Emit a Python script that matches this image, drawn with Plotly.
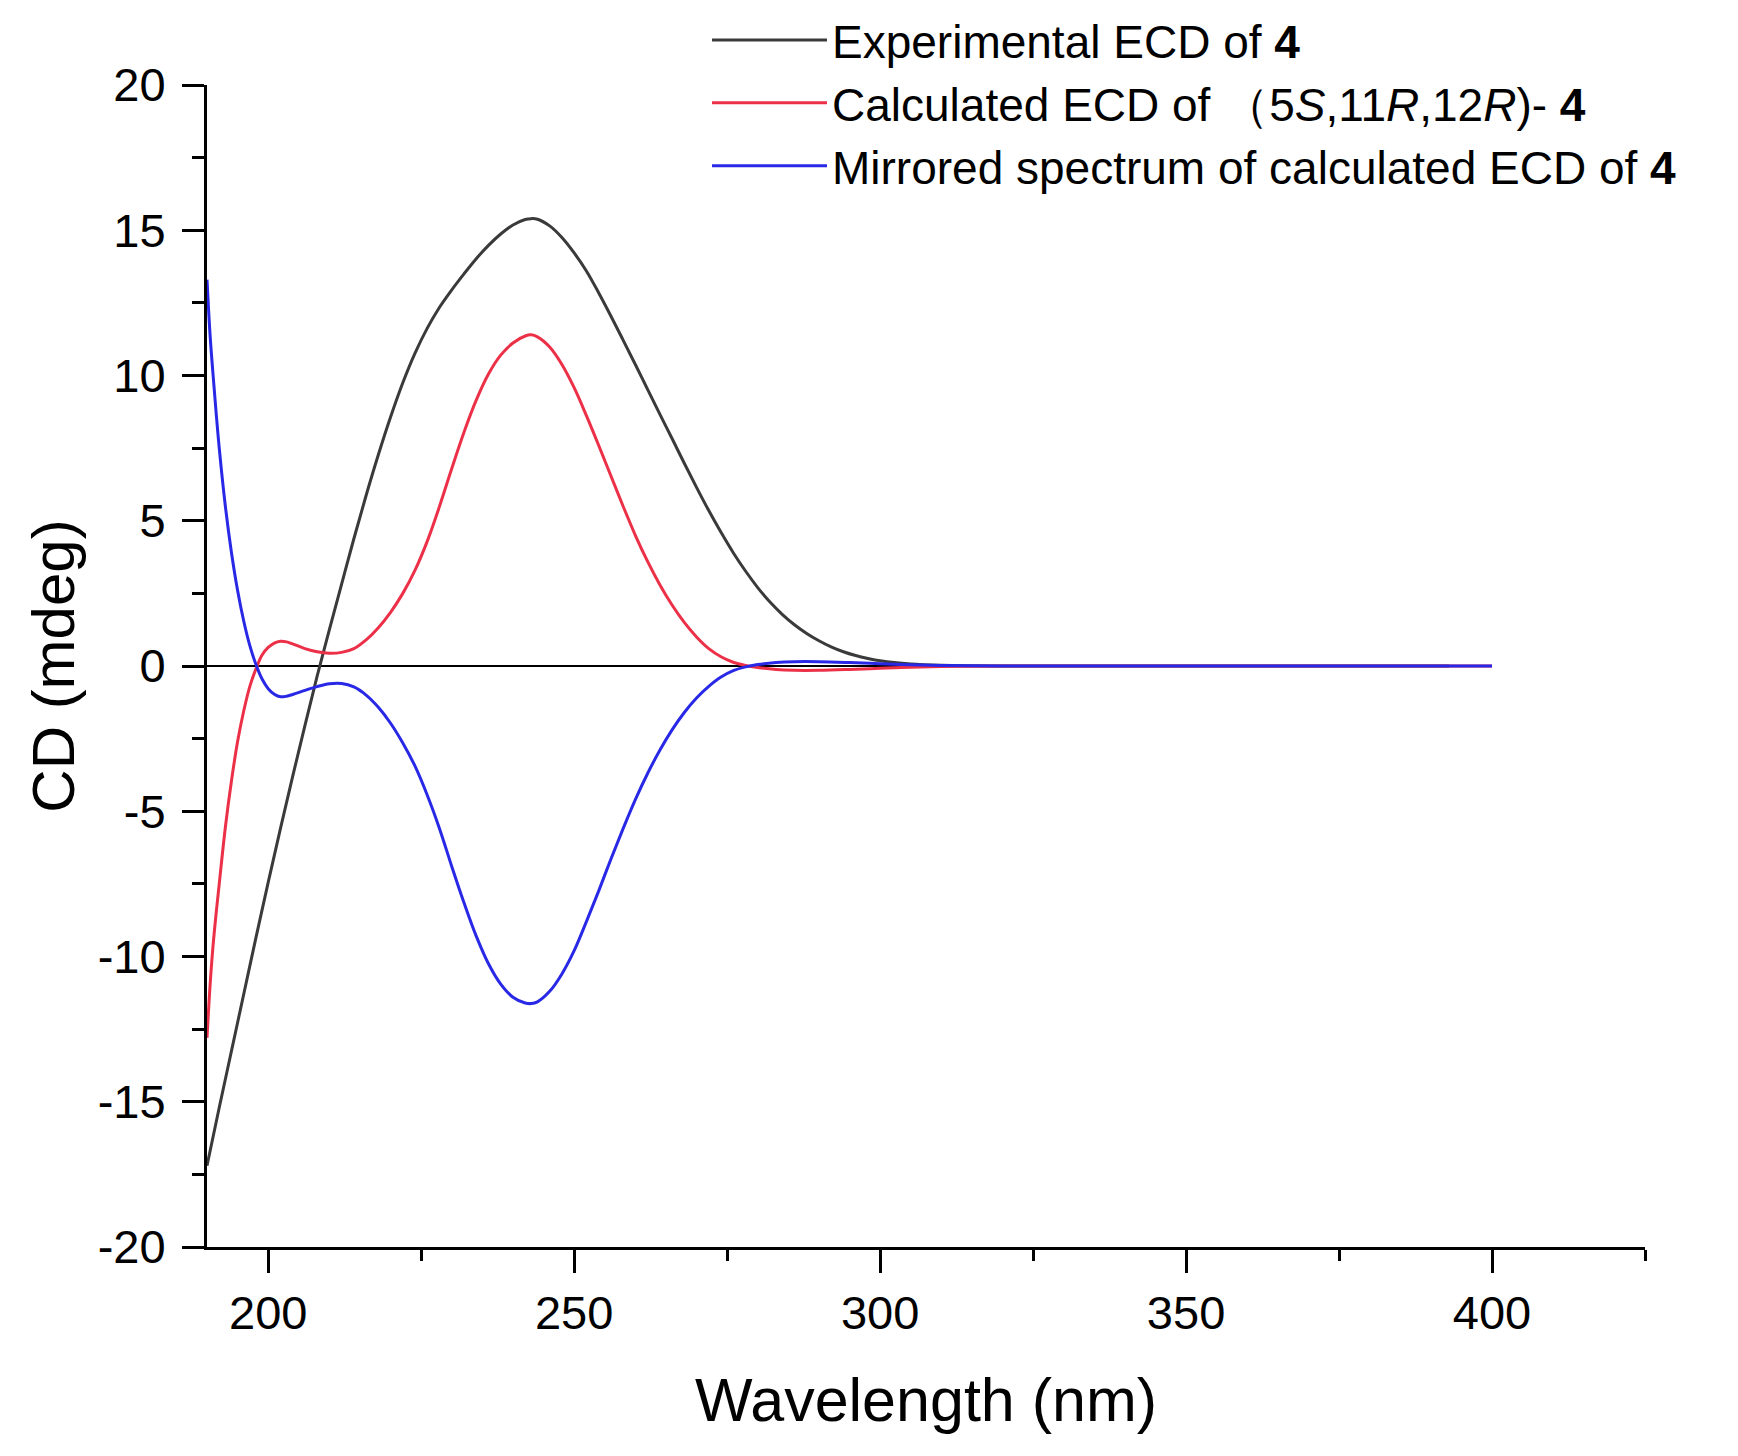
import plotly.graph_objects as go

# Experimental ECD (black)
exp_nm = [190, 192, 194, 196, 198, 200, 202, 204, 206, 208, 210, 212, 214, 216, 218,
          220, 222, 224, 226, 228, 230, 232, 234, 236, 238, 240, 242, 243, 244, 246,
          248, 250, 252, 254, 256, 258, 260, 262, 264, 266, 268, 270, 272, 274, 276,
          278, 280, 282, 284, 286, 288, 290, 292, 294, 296, 298, 300, 305, 310, 320,
          340, 360, 380, 393]
exp_cd = [-17.2, -15.2, -13.25, -11.3, -9.35, -7.45, -5.6, -3.8, -2.05, -0.35, 1.25, 2.82,
          4.38, 5.87, 7.27, 8.57, 9.75, 10.77, 11.63, 12.35, 12.95, 13.5, 14.02, 14.48,
          14.87, 15.18, 15.37, 15.4, 15.38, 15.15, 14.75, 14.22, 13.6, 12.85, 12.05, 11.22,
          10.38, 9.52, 8.67, 7.83, 6.98, 6.15, 5.35, 4.6, 3.9, 3.27, 2.7, 2.2, 1.78, 1.42,
          1.12, 0.87, 0.66, 0.49, 0.36, 0.26, 0.18, 0.07, 0.025, 0.0, 0.0, 0.0, 0.0, 0.0]

# Calculated ECD (red) and its mirrored spectrum (blue)
calc_nm = [190, 190.5, 191, 191.5, 192, 193, 194, 195, 196, 197, 198, 199, 200, 201, 202,
           203, 204, 206, 208, 210, 212, 214, 216, 218, 220, 222, 224, 226, 228, 230, 232,
           234, 236, 238, 240, 242, 243, 244, 246, 248, 250, 252, 254, 256, 258, 260, 262,
           264, 266, 268, 270, 272, 274, 276, 278, 280, 283, 286, 290, 295, 300, 305, 310,
           320, 340, 360, 380, 400]
calc_cd = [-12.8, -11.0, -9.6, -8.5, -7.5, -5.55, -3.95, -2.6, -1.55, -0.7, -0.1, 0.38,
           0.64, 0.79, 0.85, 0.83, 0.76, 0.6, 0.49, 0.44, 0.47, 0.6, 0.9, 1.32, 1.85, 2.5,
           3.3, 4.3, 5.5, 6.8, 8.05, 9.15, 10.05, 10.7, 11.12, 11.36, 11.4, 11.33, 10.98,
           10.38, 9.58, 8.62, 7.6, 6.55, 5.5, 4.5, 3.6, 2.8, 2.1, 1.5, 1.0, 0.6, 0.32,
           0.13, 0.02, -0.05, -0.12, -0.15, -0.15, -0.12, -0.08, -0.04, -0.02, 0.0, 0.0,
           0.0, 0.0, 0.0]
mirror_cd = [13.3, 11.4, 10.0, 8.7, 7.5, 5.5, 3.9, 2.6, 1.55, 0.7, 0.05, -0.45, -0.78,
             -0.97, -1.06, -1.04, -0.98, -0.84, -0.71, -0.61, -0.6, -0.72, -1.0, -1.42,
             -1.97, -2.65, -3.45, -4.45, -5.6, -6.9, -8.15, -9.3, -10.25, -10.95, -11.4,
             -11.6, -11.62, -11.56, -11.2, -10.6, -9.8, -8.8, -7.75, -6.65, -5.6, -4.6,
             -3.7, -2.9, -2.2, -1.6, -1.1, -0.7, -0.38, -0.16, -0.03, 0.05, 0.12, 0.15,
             0.15, 0.12, 0.08, 0.04, 0.02, 0.0, 0.0, 0.0, 0.0, 0.0]

names = ["Experimental ECD of <b>4</b>",
         "Calculated ECD of \uff085<i>S</i>,11<i>R</i>,12<i>R</i>)- <b>4</b>",
         "Mirrored spectrum of calculated ECD of <b>4</b>"]

x_ticks = [200, 250, 300, 350, 400]
y_ticks = [-20, -15, -10, -5, 0, 5, 10, 15, 20]
y_ticktext = ["-20", "-15", "-10", "-5", "0", "5", "10", "15", "20"]

font = "Liberation Sans, Arial, sans-serif"

fig = go.Figure()

# zero baseline across the calculated range
fig.add_trace(go.Scatter(x=[calc_nm[0], calc_nm[-1]], y=[0, 0], mode="lines",
                         line=dict(color="black", width=2), showlegend=False,
                         hoverinfo="skip"))

fig.add_trace(go.Scatter(x=exp_nm, y=exp_cd, mode="lines", name=names[0],
                         line=dict(color="#3a3a3a", width=3, shape="spline",
                                   smoothing=1.0)))
fig.add_trace(go.Scatter(x=calc_nm, y=calc_cd, mode="lines", name=names[1],
                         line=dict(color="#ec3048", width=3, shape="spline",
                                   smoothing=1.0)))
fig.add_trace(go.Scatter(x=calc_nm, y=mirror_cd, mode="lines", name=names[2],
                         line=dict(color="#2828e6", width=3, shape="spline",
                                   smoothing=1.0)))

fig.update_layout(
    width=1722, height=1440,
    margin=dict(l=199, r=85, t=77, b=201, autoexpand=False),
    plot_bgcolor="white", paper_bgcolor="white",
    font=dict(family=font, color="black", size=47),
    legend=dict(x=0.3477, y=1.070, xanchor="left", yanchor="top",
                bgcolor="rgba(0,0,0,0)", font=dict(size=46),
                itemwidth=115, tracegroupgap=0),
)

fig.update_xaxes(
    range=[190, 425], showgrid=False, zeroline=False,
    showline=True, linecolor="black", linewidth=3,
    tickmode="array", tickvals=x_ticks,
    ticks="outside", ticklen=23, tickwidth=3, tickcolor="black",
    tickfont=dict(size=47),
    minor=dict(ticks="outside", ticklen=11, tickwidth=3, tickcolor="black",
               tick0=200, dtick=25),
    title=dict(text="Wavelength (nm)", font=dict(size=61), standoff=40),
)
fig.update_yaxes(
    range=[-20, 20], showgrid=False, zeroline=False,
    showline=True, linecolor="black", linewidth=3,
    tickmode="array", tickvals=y_ticks, ticktext=y_ticktext,
    ticks="outside", ticklen=22, tickwidth=3, tickcolor="black",
    tickfont=dict(size=47), ticklabelstandoff=7,
    minor=dict(ticks="outside", ticklen=12, tickwidth=3, tickcolor="black",
               tick0=0, dtick=2.5),
    title=dict(text="CD (mdeg)", font=dict(size=60), standoff=4),
)

fig.write_html("out.html")
